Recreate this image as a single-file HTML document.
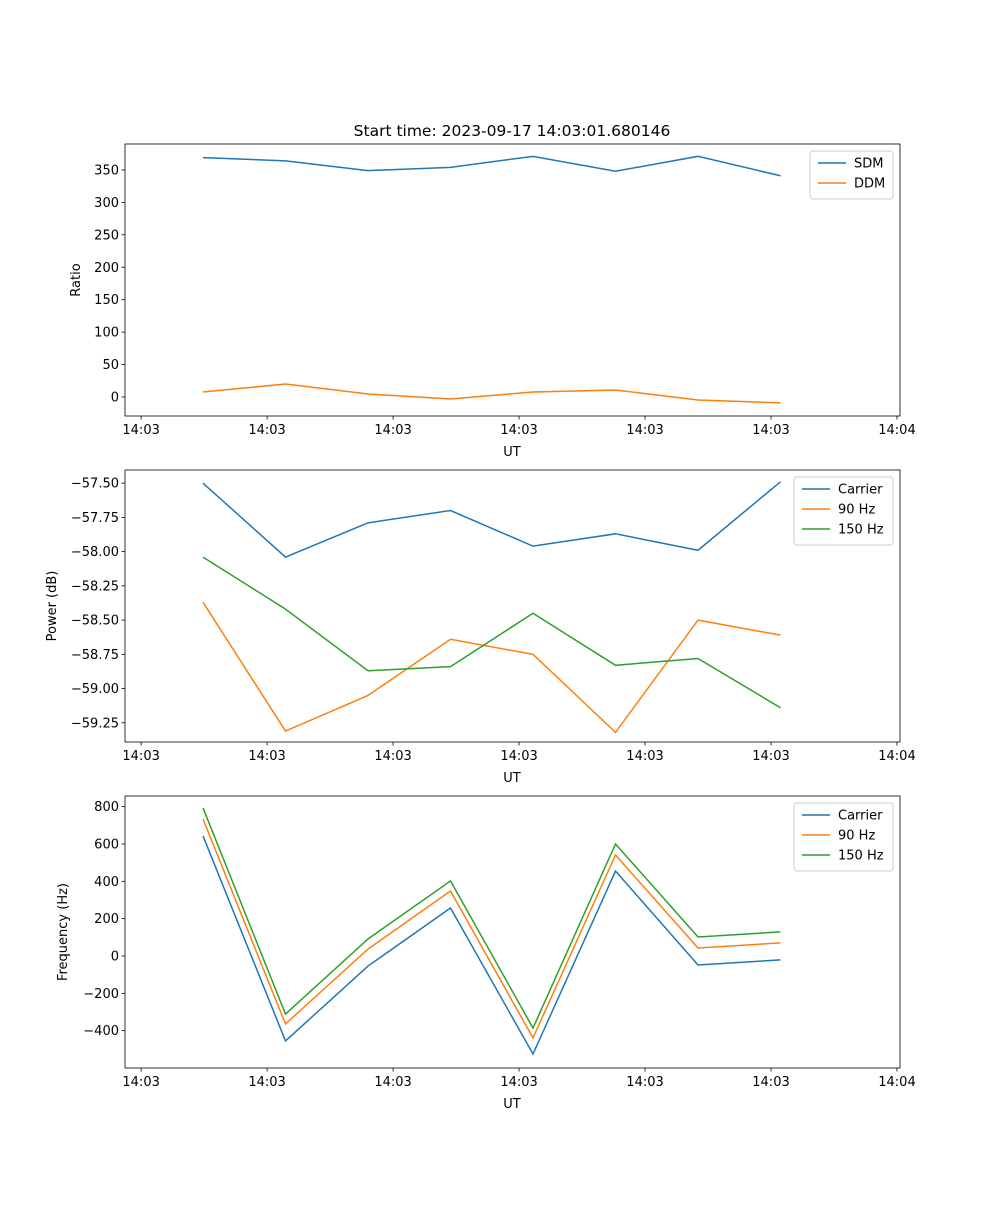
<!DOCTYPE html>
<html><head><meta charset="utf-8"><style>
body{margin:0;background:#fff;font-family:"Liberation Sans","DejaVu Sans",sans-serif}
svg text{font-family:"DejaVu Sans","Liberation Sans",sans-serif;font-size:13px;fill:#000}
</style></head><body>
<svg id="fig" width="1000" height="1200" xmlns="http://www.w3.org/2000/svg">
<rect width="1000" height="1200" fill="#fff"/>
<text x="512" y="136" text-anchor="middle" style="font-size:15.5px">Start time: 2023-09-17 14:03:01.680146</text>
</svg>
<script>
const xIdx=[0,1,2,3,4,5,6,7];
const sdm=[369,364,349,354,371,348,371,341];
const ddm=[7.7,20,4.6,-3,7.7,10.8,-4.6,-9];
const pCarrier=[-57.5,-58.04,-57.79,-57.70,-57.96,-57.87,-57.99,-57.49];
const p90=[-58.37,-59.31,-59.05,-58.64,-58.75,-59.32,-58.50,-58.61];
const p150=[-58.04,-58.42,-58.87,-58.84,-58.45,-58.83,-58.78,-59.14];
const fCarrier=[643,-455,-54,257,-525,455,-48,-21];
const f90=[734,-364,37,348,-439,541,43,70];
const f150=[793,-311,91,402,-386,600,102,129];
const xTickLabels=["14:03","14:03","14:03","14:03","14:03","14:03","14:04"];
const ticks1=[0,50,100,150,200,250,300,350];
const ticks2=[-57.5,-57.75,-58,-58.25,-58.5,-58.75,-59,-59.25];
const ticks3=[-400,-200,0,200,400,600,800];
const C=["#1f77b4","#ff7f0e","#2ca02c"];
const svg=document.getElementById('fig');const NS="http://www.w3.org/2000/svg";
function mk(t,a,p){const e=document.createElementNS(NS,t);for(const k in a)e.setAttribute(k,a[k]);(p||svg).appendChild(e);return e;}
const L=125,R=900;
const xs=i=>203+i*82.5;
function panel(name,top,bottom,y0,y1,ticks,fmt,ylab,series,names,legW){
 const g=mk('g',{});
 
 
 const ys=v=>bottom-(v-y0)/(y1-y0)*(bottom-top);
 series.forEach((s,k)=>{
  const pl=mk('polyline',{points:s.map((v,i)=>xs(xIdx[i])+','+ys(v)).join(' '),fill:'none',stroke:C[k],'stroke-width':1.5},g);
  
  
 });
 mk('rect',{x:L,y:top,width:R-L,height:bottom-top,fill:'none',stroke:'#000','stroke-width':0.8},g);
 xTickLabels.forEach((lb,k)=>{
  const x=xs(-0.75+k*1.527);
  mk('line',{x1:x,x2:x,y1:bottom,y2:bottom+3.5,stroke:'#000','stroke-width':0.8},g);
  const t=mk('text',{x:x,y:bottom+18,'text-anchor':'middle'},g);t.textContent=lb;
  
  
 });
 ticks.forEach(v=>{
  const y=ys(v);
  mk('line',{x1:L-3.5,x2:L,y1:y,y2:y,stroke:'#000','stroke-width':0.8},g);
  const t=mk('text',{x:L-6,y:y+4.5,'text-anchor':'end'},g);t.textContent=fmt(v);
  
  
 });
 const xl=mk('text',{x:512,y:bottom+40,'text-anchor':'middle'},g);xl.textContent='UT';
 
 
 const yx=ylab[1],yy=(top+bottom)/2;
 const yl=mk('text',{x:yx,y:yy,'text-anchor':'middle',transform:`rotate(-90 ${yx} ${yy})`},g);yl.textContent=ylab[0];
 
 
 const lx=R-7-legW,ly=top+7;
 const lg=mk('g',{},g);
 
 
 mk('rect',{x:lx,y:ly,width:legW,height:8+names.length*20,fill:'#fff',stroke:'#ccc',rx:3},lg);
 names.forEach((n,k)=>{
  const y=ly+12+k*20;
  mk('line',{x1:lx+8,x2:lx+36,y1:y,y2:y,stroke:C[k],'stroke-width':1.5},lg);
  const t=mk('text',{x:lx+44,y:y+4.5},lg);t.textContent=n;
  
  
 });
}
panel('ratio-panel',144,416,-29.3,390,ticks1,v=>String(v),['Ratio',80],[sdm,ddm],['SDM','DDM'],83);
panel('power-panel',470,742,-59.39,-57.404,ticks2,v=>(v<0?'\u2212':'')+Math.abs(v).toFixed(2),['Power (dB)',56],[pCarrier,p90,p150],['Carrier','90 Hz','150 Hz'],99);
panel('frequency-panel',796,1068,-600,857,ticks3,v=>(v<0?'\u2212':'')+Math.abs(v),['Frequency (Hz)',67],[fCarrier,f90,f150],['Carrier','90 Hz','150 Hz'],99);
</script>
</body></html>
